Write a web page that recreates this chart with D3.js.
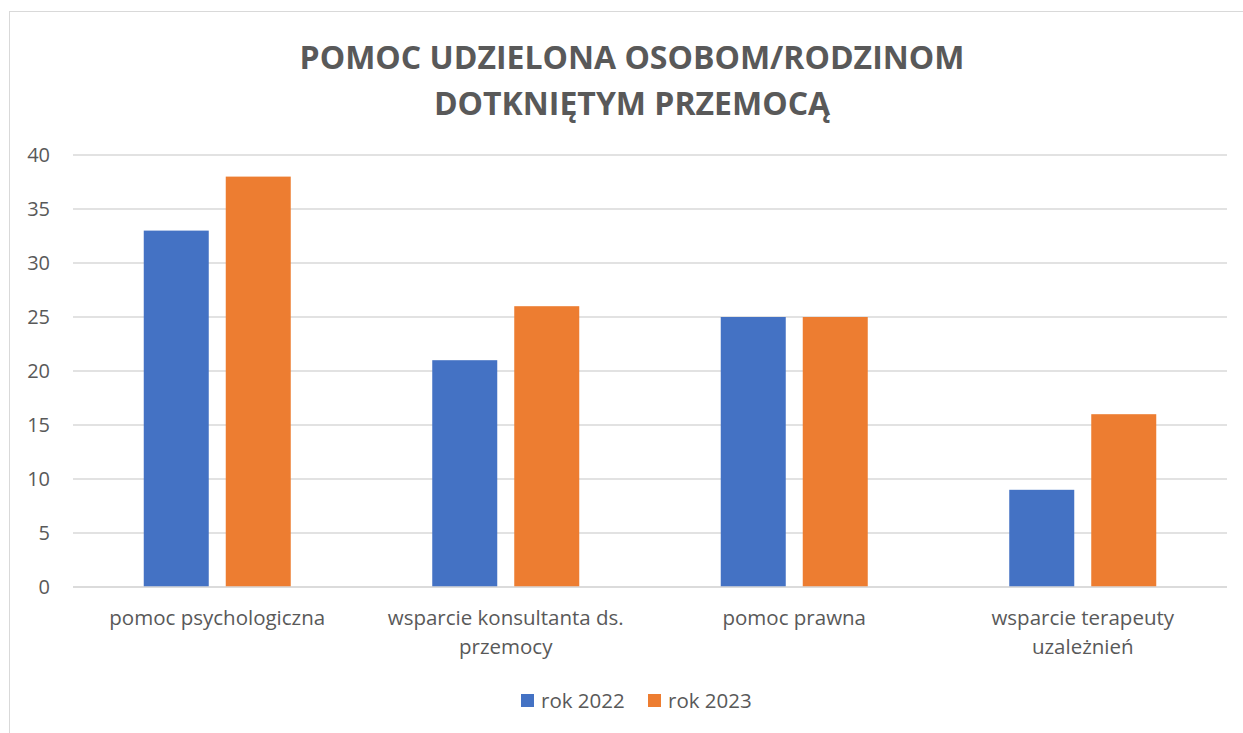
<!DOCTYPE html>
<html>
<head>
<meta charset="utf-8">
<script src="https://cdn.jsdelivr.net/npm/d3@7"></script>
<style>
  html, body { margin: 0; padding: 0; background: #fff; }
  svg { display: block; font-family: "Open Sans", "Noto Sans", sans-serif; }
</style>
</head>
<body>
<svg id="chart" width="1243" height="733"></svg>
<script>
// Data
const categories = [
  ["pomoc psychologiczna"],
  ["wsparcie konsultanta ds.", "przemocy"],
  ["pomoc prawna"],
  ["wsparcie terapeuty", "uzależnień"]
];
const seriesNames = ["rok 2022", "rok 2023"];
const values2022 = [33, 21, 25, 9];
const values2023 = [38, 26, 25, 16];
const yTicks = [0, 5, 10, 15, 20, 25, 30, 35, 40];
const colors = ["#4472C4", "#ED7D31"];
const titleLines = ["POMOC UDZIELONA OSOBOM/RODZINOM", "DOTKNIĘTYM PRZEMOCĄ"];

const svg = d3.select("#chart");
const textColor = "#595959";

// Outer chart frame
svg.append("rect")
  .attr("x", 9.5).attr("y", 11.5)
  .attr("width", 1250).attr("height", 740)
  .attr("fill", "none").attr("stroke", "#D9D9D9").attr("stroke-width", 1);

const margin = { left: 73, right: 1227, top: 155, bottom: 587 };

const x = d3.scaleBand()
  .domain(d3.range(categories.length))
  .range([margin.left, margin.right]);

const y = d3.scaleLinear().domain([0, 40]).range([margin.bottom, margin.top]);

// Gridlines
svg.append("g")
  .selectAll("line")
  .data(yTicks)
  .join("line")
  .attr("x1", margin.left).attr("x2", margin.right)
  .attr("y1", d => y(d)).attr("y2", d => y(d))
  .attr("stroke", "#D9D9D9").attr("stroke-width", 1.3);

// Y axis labels
const yAxis = d3.axisLeft(y).tickValues(yTicks).tickSize(0).tickPadding(0);
const yg = svg.append("g").attr("transform", "translate(50,0)").call(yAxis);
yg.select(".domain").remove();
yg.selectAll("text")
  .attr("fill", textColor)
  .style("font-size", "20px")
  .style("font-family", "'Open Sans', sans-serif");

// Bars
const barW = 65, gap = 17;
const series = [values2022, values2023];
series.forEach((vals, si) => {
  svg.append("g").selectAll("rect")
    .data(vals)
    .join("rect")
    .attr("x", (d, i) => x(i) + x.bandwidth() / 2 - (barW * 2 + gap) / 2 + si * (barW + gap))
    .attr("y", d => y(d))
    .attr("width", barW)
    .attr("height", d => y(0) - y(d))
    .attr("fill", colors[si]);
});

// Zero line on top of bars
svg.append("line")
  .attr("x1", margin.left).attr("x2", margin.right)
  .attr("y1", y(0)).attr("y2", y(0))
  .attr("stroke", "#D9D9D9").attr("stroke-width", 1.3);

// Category labels
const catG = svg.append("g");
categories.forEach((lines, i) => {
  const t = catG.append("text")
    .attr("x", x(i) + x.bandwidth() / 2)
    .attr("y", 625)
    .attr("text-anchor", "middle")
    .attr("fill", textColor)
    .style("font-size", "20.5px");
  lines.forEach((ln, j) => {
    t.append("tspan")
      .attr("x", x(i) + x.bandwidth() / 2)
      .attr("dy", j === 0 ? 0 : 29)
      .text(ln);
  });
});

// Title
const title = svg.append("text")
  .attr("text-anchor", "middle")
  .attr("fill", textColor)
  .style("font-size", "32px")
  .style("font-weight", "bold");
titleLines.forEach((ln, j) => {
  title.append("tspan")
    .attr("x", 632)
    .attr("y", 69 + j * 46)
    .text(ln);
});

// Legend
const legend = svg.append("g");
const legendX = [521, 648];
seriesNames.forEach((name, i) => {
  legend.append("rect")
    .attr("x", legendX[i]).attr("y", 694)
    .attr("width", 13).attr("height", 13)
    .attr("fill", colors[i]);
  legend.append("text")
    .attr("x", legendX[i] + 20).attr("y", 708)
    .attr("fill", textColor)
    .style("font-size", "20.5px")
    .text(name);
});
</script>
</body>
</html>
